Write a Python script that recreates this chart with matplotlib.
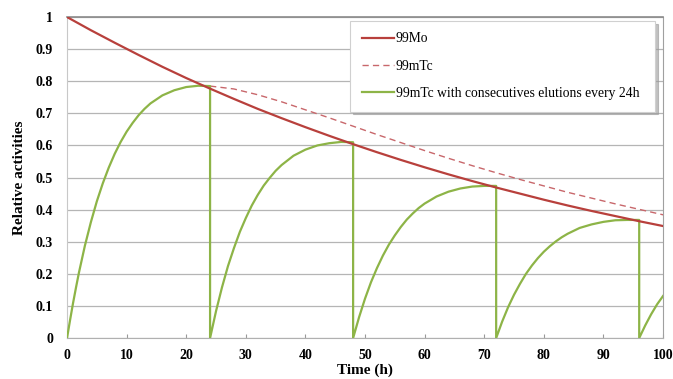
import matplotlib
matplotlib.use("Agg")
import matplotlib.pyplot as plt

# 99Mo parent activity (relative), sampled every 4 h
mo_time = [0, 4, 8, 12, 16, 20, 24, 28, 32, 36, 40, 44, 48, 52, 56, 60,
           64, 68, 72, 76, 80, 84, 88, 92, 96, 100]
mo_activity = [1.0, 0.959, 0.920, 0.882, 0.845, 0.810, 0.777, 0.745, 0.714,
               0.685, 0.657, 0.630, 0.604, 0.579, 0.555, 0.532, 0.510, 0.489,
               0.469, 0.450, 0.431, 0.413, 0.396, 0.380, 0.364, 0.349]

# 99mTc without elution (only shown after the first elution time)
tc_time = [24, 28, 32, 36, 40, 44, 48, 52, 56, 60, 64, 68, 72, 76, 80, 84,
           88, 92, 96, 100]
tc_activity = [0.785, 0.776, 0.758, 0.736, 0.711, 0.686, 0.660, 0.634, 0.609,
               0.584, 0.560, 0.537, 0.515, 0.494, 0.474, 0.454, 0.436, 0.418,
               0.401, 0.384]

# 99mTc with an elution every 24 h (vertical drop to 0 at each elution)
elu_time = [0, 0.5, 1, 1.5, 2, 3, 4, 5, 6, 7, 8, 9, 10, 11, 12, 13, 14, 16,
            18, 20, 22, 24,
            24, 25, 26, 27, 28, 29, 30, 31, 32, 33, 34, 35, 36, 38, 40, 42,
            44, 46, 48,
            48, 49, 50, 51, 52, 53, 54, 55, 56, 57, 58, 59, 60, 62, 64, 66,
            68, 70, 72,
            72, 73, 74, 75, 76, 77, 78, 79, 80, 81, 82, 83, 84, 86, 88, 90,
            92, 94, 96,
            96, 97, 98, 99, 100]
elu_activity = [0, 0.055, 0.108, 0.157, 0.204, 0.288, 0.361, 0.426, 0.482,
                0.531, 0.574, 0.611, 0.643, 0.670, 0.694, 0.714, 0.731, 0.756,
                0.772, 0.782, 0.786, 0.785,
                0, 0.084, 0.158, 0.224, 0.280, 0.331, 0.374, 0.413, 0.446,
                0.475, 0.499, 0.521, 0.539, 0.568, 0.587, 0.600, 0.607, 0.611,
                0.610,
                0, 0.065, 0.123, 0.174, 0.218, 0.257, 0.291, 0.320, 0.346,
                0.369, 0.388, 0.405, 0.419, 0.441, 0.456, 0.466, 0.472, 0.474,
                0.474,
                0, 0.051, 0.096, 0.135, 0.169, 0.200, 0.226, 0.249, 0.269,
                0.286, 0.301, 0.314, 0.325, 0.343, 0.354, 0.362, 0.367, 0.368,
                0.368,
                0, 0.039, 0.074, 0.105, 0.131]

x_ticks = [0, 10, 20, 30, 40, 50, 60, 70, 80, 90, 100]
y_ticks = [0, 0.1, 0.2, 0.3, 0.4, 0.5, 0.6, 0.7, 0.8, 0.9, 1]
y_tick_labels = ["0", "0.1", "0.2", "0.3", "0.4", "0.5", "0.6", "0.7",
                 "0.8", "0.9", "1"]

plt.rcParams["font.family"] = ["Liberation Serif", "DejaVu Serif"]

fig = plt.figure(figsize=(6.73, 3.79), dpi=100)
ax = fig.add_axes([0.0996, 0.108, 0.8856, 0.847])

ax.plot(mo_time, mo_activity, color="#B8403C", lw=1.6, label="99Mo", zorder=4)
ax.plot(tc_time, tc_activity, color="#C8676B", lw=1.0, ls=(0, (4.5, 3)),
        label="99mTc", zorder=3)
ax.plot(elu_time, elu_activity, color="#8DB447", lw=1.6,
        label="99mTc with consecutives elutions every 24h", zorder=3)

ax.set_xlim(0, 100)
ax.set_ylim(0, 1)
ax.set_xticks(x_ticks)
ax.set_yticks(y_ticks)
ax.set_yticklabels(y_tick_labels)
ax.tick_params(axis="x", direction="in", length=3, color="#999999",
               labelsize=10, pad=8)
ax.tick_params(axis="y", length=0, labelsize=10, pad=10)
for lbl in ax.get_xticklabels() + ax.get_yticklabels():
    lbl.set_fontweight("bold")

ax.grid(axis="y", color="#B5B5B5", lw=0.9)
ax.set_axisbelow(True)
ax.spines["top"].set_color("#8A8A8A")
ax.spines["top"].set_linewidth(1.2)
ax.spines["right"].set_color("#A0A0A0")
ax.spines["left"].set_color("#C8C8C8")
ax.spines["bottom"].set_color("#B0B0B0")

ax.set_xlabel("Time (h)", fontsize=11, fontweight="bold", labelpad=1)
ax.set_ylabel("Relative activities", fontsize=11, fontweight="bold",
              labelpad=7)

leg = ax.legend(loc="upper left", bbox_to_anchor=(0.475, 0.988, 0.512, 0.0),
                mode="expand", fontsize=9.8, frameon=True, fancybox=False,
                shadow={"color": "#9a9a9a", "alpha": 0.6}, edgecolor="#D0D0D0",
                framealpha=1, handlelength=2.4, labelspacing=1.05,
                borderpad=0.85, handletextpad=0.1, borderaxespad=0)
leg.get_frame().set_linewidth(0.8)
leg.set_zorder(5)

fig.savefig("out.png", dpi=100)
